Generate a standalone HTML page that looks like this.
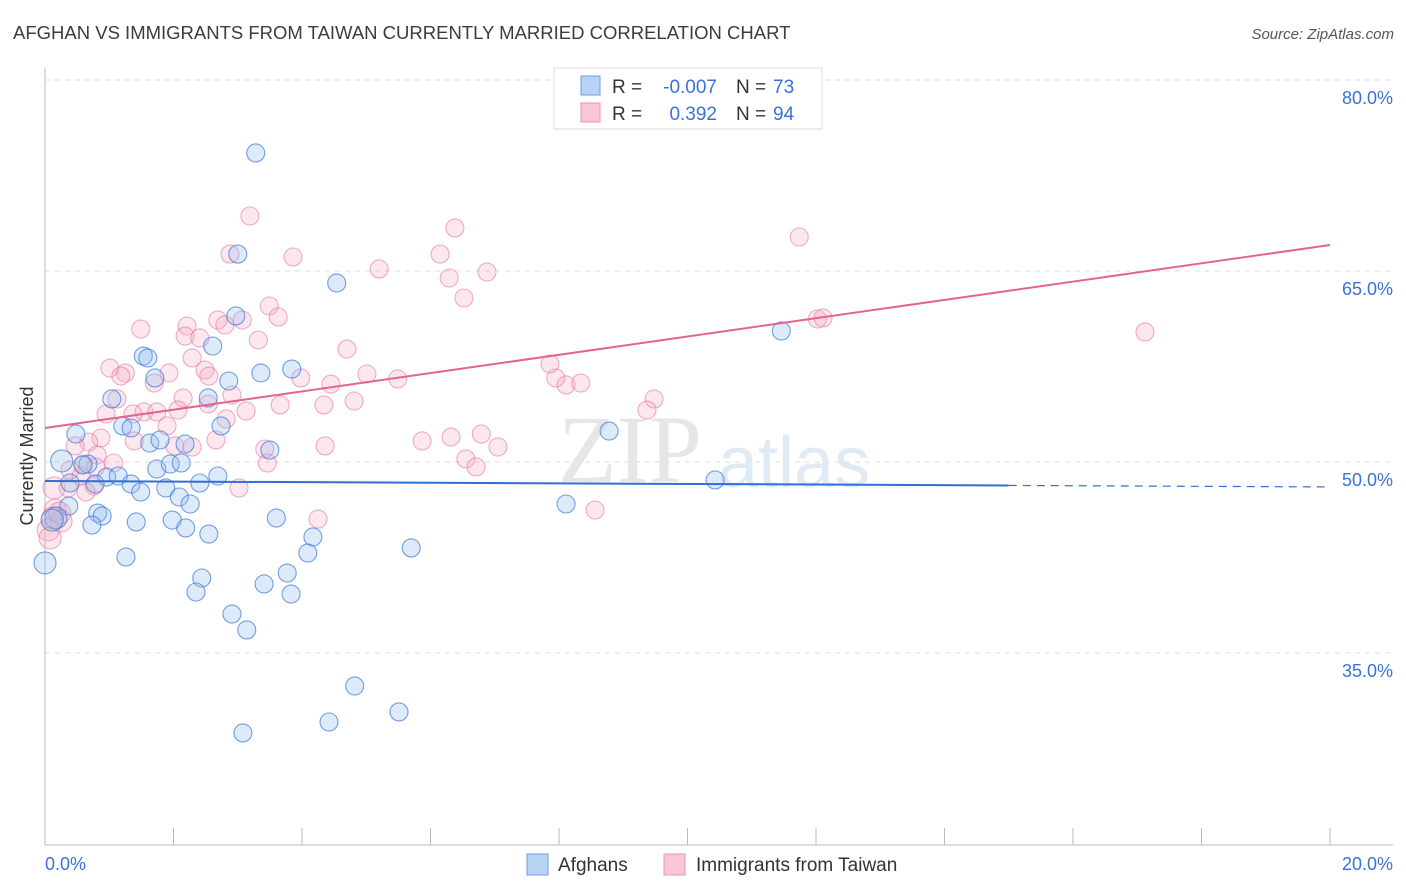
<!DOCTYPE html>
<html><head><meta charset="utf-8"><style>
body{margin:0;background:#fff;font-family:"Liberation Sans",sans-serif}
svg{display:block}
</style></head><body>
<svg id="chart" width="1406" height="892" viewBox="0 0 1406 892">
<text x="13" y="39" font-size="18.5" fill="#3c3c3c">AFGHAN VS IMMIGRANTS FROM TAIWAN CURRENTLY MARRIED CORRELATION CHART</text>
<text x="1394" y="39" font-size="15" fill="#555" font-style="italic" text-anchor="end">Source: ZipAtlas.com</text>
<g id="grid"></g>
<text x="558" y="482" font-size="96" fill="#e6e6e6" font-family="Liberation Serif">ZIP</text>
<text x="718" y="487" font-size="72" fill="#e0eaf5">atlas</text>
<g id="pts"></g>
<g id="lines"></g>
<text x="33" y="456" font-size="18" fill="#333" text-anchor="middle" transform="rotate(-90 33 456)">Currently Married</text>
<g>
<rect x="554" y="68" width="268" height="61" fill="#fff" stroke="#ddd"/>
<rect x="581" y="76" width="19" height="19" fill="#b8d3f5" stroke="#6e9ee0"/>
<rect x="581" y="103" width="19" height="19" fill="#f9c6d6" stroke="#ec92b0"/>
<text x="612" y="93" font-size="19" fill="#333">R =</text>
<text x="717" y="93" font-size="19" fill="#3a72d8" text-anchor="end">-0.007</text>
<text x="736" y="93" font-size="19" fill="#333">N =</text>
<text x="773" y="93" font-size="19" fill="#3a72d8">73</text>
<text x="612" y="120" font-size="19" fill="#333">R =</text>
<text x="717" y="120" font-size="19" fill="#3a72d8" text-anchor="end">0.392</text>
<text x="736" y="120" font-size="19" fill="#333">N =</text>
<text x="773" y="120" font-size="19" fill="#3a72d8">94</text>
</g>
<g>
<rect x="527" y="854" width="21" height="21" fill="#b8d3f5" stroke="#6e9ee0"/>
<text x="558" y="871" font-size="19" fill="#333">Afghans</text>
<rect x="664" y="854" width="21" height="21" fill="#f9c6d6" stroke="#ec92b0"/>
<text x="696" y="871" font-size="19" fill="#333">Immigrants from Taiwan</text>
</g>
</svg>
<script>
const yTicks=[35,50,65,80];
const xTickLabels=["0.0%","20.0%"];
const blueX=[3.28,3.00,4.54,2.97,2.61,1.53,1.60,1.71,2.86,3.36,3.84,1.04,2.54,1.21,1.34,2.74,3.50,0.48,1.63,1.79,2.18,0.26,0.67,0.59,1.74,1.95,2.12,2.69,0.96,1.14,0.39,0.78,1.34,1.49,1.88,2.09,2.41,2.26,0.37,0.82,0.89,0.17,0.11,0.73,1.42,1.98,2.19,2.55,3.60,4.17,4.09,5.70,1.26,0.00,2.44,3.77,2.35,3.41,3.83,2.91,3.14,4.82,4.42,5.51,3.08,8.11,8.78,10.43,11.46];
const blueY=[74.27,66.33,64.06,61.47,59.11,58.32,58.17,56.60,56.36,56.99,57.30,54.95,55.03,52.83,52.67,52.83,50.94,52.20,51.49,51.73,51.41,50.08,49.84,49.76,49.45,49.84,49.92,48.90,48.82,48.90,48.35,48.27,48.27,47.64,47.96,47.25,48.35,46.70,46.54,45.99,45.76,45.60,45.44,45.05,45.29,45.44,44.82,44.34,45.60,44.11,42.85,43.25,42.54,42.07,40.89,41.28,39.79,40.42,39.63,38.06,36.81,32.41,29.58,30.37,28.72,46.70,52.43,48.59,60.29];
const pinkX=[3.19,6.38,6.15,2.88,3.86,5.20,6.29,6.88,6.52,11.74,3.49,1.49,2.21,2.18,2.41,2.69,3.07,3.63,2.80,3.32,17.12,12.02,12.11,4.70,2.29,1.01,1.25,1.18,1.93,2.49,2.55,1.70,3.98,4.45,5.01,5.49,7.86,7.95,8.11,8.34,2.15,1.12,1.54,1.74,2.07,2.54,2.91,3.66,4.34,4.81,0.95,1.37,3.13,2.82,9.48,9.37,1.90,1.39,0.87,0.68,2.02,2.29,2.66,3.42,4.36,5.87,6.32,6.79,7.05,0.47,0.81,0.59,1.07,0.79,3.46,6.55,6.71,0.39,0.56,0.14,0.76,0.36,3.02,0.64,4.25,8.56,0.16,0.23,0.25,0.05,0.08,0.12];
const pinkY=[69.32,68.38,66.33,66.33,66.10,65.16,64.45,64.92,62.88,67.67,62.25,60.44,60.68,59.89,59.74,61.15,61.15,61.39,60.76,59.58,60.21,61.23,61.31,58.87,58.17,57.38,56.99,56.75,56.99,57.22,56.75,56.20,56.60,56.12,56.91,56.52,57.70,56.60,56.05,56.20,55.03,54.95,53.93,53.93,54.08,54.55,55.26,54.48,54.48,54.79,53.77,53.77,54.00,53.38,54.95,54.08,52.83,51.65,51.88,51.57,51.26,51.18,51.73,51.02,51.26,51.65,51.96,52.20,51.18,51.26,50.55,49.84,49.92,49.61,49.92,50.24,49.61,49.37,48.90,47.96,48.11,47.96,47.96,47.64,45.52,46.23,46.23,45.99,45.36,44.66,44.03,45.60];
const blueTrend=[48.51,48.04];
const pinkTrend=[52.67,67.04];
const NS="http://www.w3.org/2000/svg";
const X0=45,X1=1330,Y80=80,PXPCT=12.733;
function sx(v){return X0+(X1-X0)*v/20;}
function sy(v){return Y80+(80-v)*PXPCT;}
function mk(tag,attrs,parent){const e=document.createElementNS(NS,tag);for(const k in attrs)e.setAttribute(k,attrs[k]);parent.appendChild(e);return e;}
const grid=document.getElementById('grid');
mk('line',{x1:45,y1:68,x2:45,y2:845,stroke:'#bbb'},grid);
mk('line',{x1:45,y1:845,x2:1393,y2:845,stroke:'#bbb'},grid);
for(let i=0;i<=10;i++){const x=X0+i*(X1-X0)/10;const t=mk('line',{x1:x,y1:828,x2:x,y2:845,stroke:'#bbb'},grid);

}
yTicks.forEach(v=>{const y=sy(v);const g=mk('line',{x1:45,y1:y,x2:1393,y2:y,stroke:'#ddd','stroke-dasharray':'5 5'},grid);


const t=mk('text',{x:1393,y:y+24,'font-size':18,fill:'#3a72d8','text-anchor':'end'},grid);t.textContent=v.toFixed(1)+'%';

});
const xl=mk('text',{x:45,y:870,'font-size':18,fill:'#3a72d8'},grid);xl.textContent=xTickLabels[0];


const xr=mk('text',{x:1393,y:870,'font-size':18,fill:'#3a72d8','text-anchor':'end'},grid);xr.textContent=xTickLabels[1];


const pts=document.getElementById('pts');
pinkX.forEach((v,i)=>{const r=v<0.3?11:9;const c=mk('circle',{cx:sx(v),cy:sy(pinkY[i]),r:r,fill:'rgba(246,170,195,0.28)',stroke:'rgba(232,120,160,0.6)','stroke-width':1.1},pts);

});
blueX.forEach((v,i)=>{const r=v<0.3?11:9;const c=mk('circle',{cx:sx(v),cy:sy(blueY[i]),r:r,fill:'rgba(150,190,240,0.32)',stroke:'rgba(60,120,215,0.7)','stroke-width':1.1},pts);

});
const lines=document.getElementById('lines');
const bAt=x=>blueTrend[0]+(blueTrend[1]-blueTrend[0])*x/20;
const l1=mk('line',{x1:sx(0),y1:sy(bAt(0)),x2:sx(15),y2:sy(bAt(15)),stroke:'#2f6fd6','stroke-width':2},lines);


const l2=mk('line',{x1:sx(15),y1:sy(bAt(15)),x2:sx(20),y2:sy(bAt(20)),stroke:'#2f6fd6','stroke-width':1.2,'stroke-dasharray':'8 6'},lines);


const l3=mk('line',{x1:sx(0),y1:sy(pinkTrend[0]),x2:sx(20),y2:sy(pinkTrend[1]),stroke:'#e4648f','stroke-width':2},lines);


</script>
</body></html>
